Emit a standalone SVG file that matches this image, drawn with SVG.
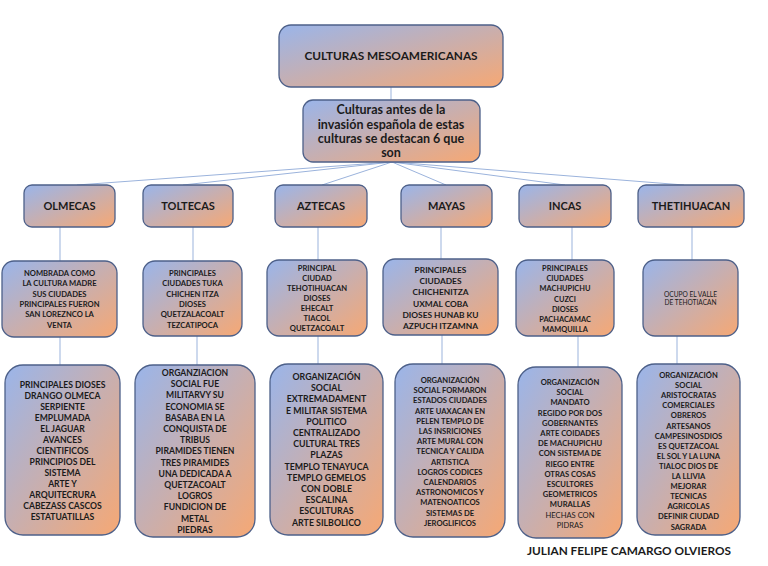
<svg xmlns="http://www.w3.org/2000/svg" width="768" height="566" viewBox="0 0 768 566">
<defs>
<linearGradient id="g" x1="0" y1="0" x2="1" y2="1">
<stop offset="0" stop-color="#9ab5ea"/>
<stop offset="1" stop-color="#f6a874"/>
</linearGradient>
<style>
.box{fill:url(#g);stroke:#4d6089;stroke-width:1.3}
.t{font-family:"Lato","Liberation Sans",sans-serif;font-weight:bold;fill:#1b1b1b;text-anchor:middle}
.r{font-weight:normal}
.c{stroke:#9bb3dc;stroke-width:1;fill:none}
</style>
</defs>
<rect width="768" height="566" fill="#ffffff"/>
<g id="connectors">
<line class="c" x1="391" y1="87" x2="391" y2="100"/>
<line class="c" x1="392" y1="162" x2="77" y2="185"/>
<line class="c" x1="392" y1="162" x2="183" y2="185"/>
<line class="c" x1="392" y1="162" x2="322" y2="185"/>
<line class="c" x1="392" y1="162" x2="446" y2="185"/>
<line class="c" x1="392" y1="162" x2="565" y2="185"/>
<line class="c" x1="392" y1="162" x2="684" y2="185"/>
<line class="c" x1="60" y1="227" x2="60" y2="261"/>
<line class="c" x1="193" y1="227" x2="193" y2="261"/>
<line class="c" x1="318" y1="227" x2="318" y2="260"/>
<line class="c" x1="441" y1="227" x2="441" y2="259"/>
<line class="c" x1="572" y1="227" x2="572" y2="260"/>
<line class="c" x1="692" y1="227" x2="692" y2="260"/>
<line class="c" x1="60" y1="337" x2="60" y2="365"/>
<line class="c" x1="197" y1="336" x2="197" y2="365"/>
<line class="c" x1="318" y1="336" x2="318" y2="364"/>
<line class="c" x1="442" y1="335" x2="442" y2="364"/>
<line class="c" x1="578" y1="336" x2="578" y2="367"/>
<line class="c" x1="677" y1="336" x2="677" y2="364"/>
</g>
<g id="n-title">
<rect class="box" x="279" y="25" width="224" height="62" rx="12"/>
<text class="t" x="391" y="60" font-size="11.8">CULTURAS MESOAMERICANAS</text>
</g>
<g id="n-intro">
<rect class="box" x="303" y="100" width="177" height="62" rx="10"/>
<text class="t" font-size="12.5"><tspan x="391" y="114">Culturas antes de la</tspan><tspan x="391" y="129">invasión española de estas</tspan><tspan x="391" y="143">culturas se destacan 6 que</tspan><tspan x="391" y="157">son</tspan></text>
</g>
<g id="h-olmecas"><rect class="box" x="24" y="185" width="91" height="42" rx="8"/><text class="t" x="69.5" y="210" font-size="11">OLMECAS</text></g>
<g id="h-toltecas"><rect class="box" x="143" y="185" width="90" height="42" rx="8"/><text class="t" x="188" y="210" font-size="11">TOLTECAS</text></g>
<g id="h-aztecas"><rect class="box" x="275" y="185" width="92" height="42" rx="8"/><text class="t" x="321" y="210" font-size="11">AZTECAS</text></g>
<g id="h-mayas"><rect class="box" x="401" y="185" width="91" height="42" rx="8"/><text class="t" x="446.5" y="210" font-size="11">MAYAS</text></g>
<g id="h-incas"><rect class="box" x="519" y="185" width="92" height="42" rx="8"/><text class="t" x="565" y="210" font-size="11">INCAS</text></g>
<g id="h-theti"><rect class="box" x="638" y="185" width="106" height="42" rx="8"/><text class="t" x="691" y="210" font-size="11">THETIHUACAN</text></g>

<g id="a-olmecas"><rect class="box" x="2" y="261" width="115" height="76" rx="12"/>
<text class="t" font-size="7.6"><tspan x="59.5" y="276">NOMBRADA COMO</tspan><tspan x="59.5" y="286.3">LA CULTURA MADRE</tspan><tspan x="59.5" y="296.6">SUS CIUDADES</tspan><tspan x="59.5" y="306.9">PRINCIPALES FUERON</tspan><tspan x="59.5" y="317.2">SAN LOREZNCO LA</tspan><tspan x="59.5" y="327.5">VENTA</tspan></text></g>
<g id="a-toltecas"><rect class="box" x="143" y="261" width="99" height="75" rx="12"/>
<text class="t" font-size="7.6"><tspan x="192.5" y="276">PRINCIPALES</tspan><tspan x="192.5" y="286.3">CIUDADES TUKA</tspan><tspan x="192.5" y="296.6">CHICHEN ITZA</tspan><tspan x="192.5" y="306.9">DIOSES</tspan><tspan x="192.5" y="317.2">QUETZALACOALT</tspan><tspan x="192.5" y="327.5">TEZCATIPOCA</tspan></text></g>
<g id="a-aztecas"><rect class="box" x="267" y="260" width="100" height="76" rx="12"/>
<text class="t" font-size="7.6"><tspan x="317" y="271">PRINCIPAL</tspan><tspan x="317" y="281">CIUDAD</tspan><tspan x="317" y="291">TEHOTIHUACAN</tspan><tspan x="317" y="301">DIOSES</tspan><tspan x="317" y="311">EHECALT</tspan><tspan x="317" y="321">TIACOL</tspan><tspan x="317" y="331">QUETZACOALT</tspan></text></g>
<g id="a-mayas"><rect class="box" x="383" y="259" width="115" height="76" rx="12"/>
<text class="t" font-size="8.4"><tspan x="440.5" y="273">PRINCIPALES</tspan><tspan x="440.5" y="284.2">CIUDADES</tspan><tspan x="440.5" y="295.4">CHICHENITZA</tspan><tspan x="440.5" y="306.6">UXMAL COBA</tspan><tspan x="440.5" y="317.8">DIOSES  HUNAB KU</tspan><tspan x="440.5" y="329">AZPUCH ITZAMNA</tspan></text></g>
<g id="a-incas"><rect class="box" x="516" y="260" width="98" height="76" rx="12"/>
<text class="t" font-size="7.4"><tspan x="565" y="271">PRINCIPALES</tspan><tspan x="565" y="281.2">CIUDADES</tspan><tspan x="565" y="291.4">MACHUPICHU</tspan><tspan x="565" y="301.6">CUZCI</tspan><tspan x="565" y="311.8">DIOSES</tspan><tspan x="565" y="322">PACHACAMAC</tspan><tspan x="565" y="332.2">MAMQUILLA</tspan></text></g>
<g id="a-theti"><rect class="box" x="643" y="260" width="95" height="76" rx="12"/>
<text class="t r" font-size="6.6"><tspan x="690.5" y="296.5">OCUPO EL VALLE</tspan><tspan x="690.5" y="305">DE TEHOTIACAN</tspan></text></g>

<g id="b-olmecas"><rect class="box" x="5" y="365" width="115" height="170" rx="18"/>
<text class="t" font-size="8.6"><tspan x="62.5" y="388">PRINCIPALES DIOSES</tspan><tspan x="62.5" y="399">DRANGO OLMECA</tspan><tspan x="62.5" y="410">SERPIENTE</tspan><tspan x="62.5" y="421">EMPLUMADA</tspan><tspan x="62.5" y="432">EL JAGUAR</tspan><tspan x="62.5" y="443">AVANCES</tspan><tspan x="62.5" y="454">CIENTIFICOS</tspan><tspan x="62.5" y="465">PRINCIPIOS DEL</tspan><tspan x="62.5" y="476">SISTEMA</tspan><tspan x="62.5" y="487">ARTE Y</tspan><tspan x="62.5" y="498">ARQUITECRURA</tspan><tspan x="62.5" y="509">CABEZASS CASCOS</tspan><tspan x="62.5" y="520">ESTATUATILLAS</tspan></text></g>
<g id="b-toltecas"><rect class="box" x="135" y="365" width="120" height="172" rx="18"/>
<text class="t" font-size="8.6"><tspan x="195" y="376">ORGANZIACION</tspan><tspan x="195" y="387.2">SOCIAL  FUE</tspan><tspan x="195" y="398.4">MILITARVY SU</tspan><tspan x="195" y="409.6">ECONOMIA SE</tspan><tspan x="195" y="420.8">BASABA EN LA</tspan><tspan x="195" y="432">CONQUISTA DE</tspan><tspan x="195" y="443.2">TRIBUS</tspan><tspan x="195" y="454.4">PIRAMIDES TIENEN</tspan><tspan x="195" y="465.6">TRES PIRAMIDES</tspan><tspan x="195" y="476.8">UNA DEDICADA A</tspan><tspan x="195" y="488">QUETZACOALT</tspan><tspan x="195" y="499.2">LOGROS</tspan><tspan x="195" y="510.4">FUNDICION DE</tspan><tspan x="195" y="521.6">METAL</tspan><tspan x="195" y="532.8">PIEDRAS</tspan></text></g>
<g id="b-aztecas"><rect class="box" x="270" y="364" width="113" height="171" rx="18"/>
<text class="t" font-size="8.8"><tspan x="326.5" y="380">ORGANIZACIÓN</tspan><tspan x="326.5" y="391.2">SOCIAL</tspan><tspan x="326.5" y="402.4">EXTREMADAMENT</tspan><tspan x="326.5" y="413.6">E MILITAR SISTEMA</tspan><tspan x="326.5" y="424.8">POLITICO</tspan><tspan x="326.5" y="436">CENTRALIZADO</tspan><tspan x="326.5" y="447.2">CULTURAL TRES</tspan><tspan x="326.5" y="458.4">PLAZAS</tspan><tspan x="326.5" y="469.6">TEMPLO TENAYUCA</tspan><tspan x="326.5" y="480.8">TEMPLO GEMELOS</tspan><tspan x="326.5" y="492">CON DOBLE</tspan><tspan x="326.5" y="503.2">ESCALINA</tspan><tspan x="326.5" y="514.4">ESCULTURAS</tspan><tspan x="326.5" y="525.6">ARTE SILBOLICO</tspan></text></g>
<g id="b-mayas"><rect class="box" x="395" y="364" width="110" height="173" rx="18"/>
<text class="t" font-size="7.6"><tspan x="450" y="383">ORGANIZACIÓN</tspan><tspan x="450" y="393.2">SOCIAL  FORMARON</tspan><tspan x="450" y="403.4">ESTADOS CIUDADES</tspan><tspan x="450" y="413.6">ARTE UAXACAN  EN</tspan><tspan x="450" y="423.8">PELEN TEMPLO DE</tspan><tspan x="450" y="434">LAS INSRICIONES</tspan><tspan x="450" y="444.2">ARTE MURAL  CON</tspan><tspan x="450" y="454.4">TECNICA Y CALIDA</tspan><tspan x="450" y="464.6">ARTISTICA</tspan><tspan x="450" y="474.8">LOGROS CODICES</tspan><tspan x="450" y="485">CALENDARIOS</tspan><tspan x="450" y="495.2">ASTRONOMICOS Y</tspan><tspan x="450" y="505.4">MATENOATICOS</tspan><tspan x="450" y="515.6">SISTEMAS DE</tspan><tspan x="450" y="525.8">JEROGLIFICOS</tspan></text></g>
<g id="b-incas"><rect class="box" x="518" y="367" width="104" height="171" rx="18"/>
<text class="t" font-size="7.6"><tspan x="570" y="385">ORGANIZACIÓN</tspan><tspan x="570" y="395.2">SOCIAL</tspan><tspan x="570" y="405.4">MANDATO</tspan><tspan x="570" y="415.6">REGIDO POR DOS</tspan><tspan x="570" y="425.8">GOBERNANTES</tspan><tspan x="570" y="436">ARTE COIDADES</tspan><tspan x="570" y="446.2">DE MACHUPICHU</tspan><tspan x="570" y="456.4">CON SISTEMA DE</tspan><tspan x="570" y="466.6">RIEGO ENTRE</tspan><tspan x="570" y="476.8">OTRAS COSAS</tspan><tspan x="570" y="487">ESCULTORES</tspan><tspan x="570" y="497.2">GEOMETRICOS</tspan><tspan x="570" y="507.4">MURALLAS</tspan><tspan x="570" y="517.6" class="r">HECHAS CON</tspan><tspan x="570" y="527.8" class="r">PIDRAS</tspan></text></g>
<g id="b-theti"><rect class="box" x="637" y="364" width="103" height="171" rx="18"/>
<text class="t" font-size="7.6"><tspan x="688.5" y="378">ORGANIZACIÓN</tspan><tspan x="688.5" y="388.1">SOCIAL</tspan><tspan x="688.5" y="398.2">ARISTOCRATAS</tspan><tspan x="688.5" y="408.3">COMERCIALES</tspan><tspan x="688.5" y="418.4">OBREROS</tspan><tspan x="688.5" y="428.5">ARTESANOS</tspan><tspan x="688.5" y="438.6">CAMPESINOSDIOS</tspan><tspan x="688.5" y="448.7">ES QUETZACOAL</tspan><tspan x="688.5" y="458.8">EL SOL Y LA LUNA</tspan><tspan x="688.5" y="468.9">TIALOC DIOS DE</tspan><tspan x="688.5" y="479">LA LLIVIA</tspan><tspan x="688.5" y="489.1">MEJORAR</tspan><tspan x="688.5" y="499.2">TECNICAS</tspan><tspan x="688.5" y="509.3">AGRICOLAS</tspan><tspan x="688.5" y="519.4">DEFINIR CIUDAD</tspan><tspan x="688.5" y="529.5">SAGRADA</tspan></text></g>

<text class="t" x="629" y="555" font-size="11.8">JULIAN FELIPE CAMARGO OLVIEROS</text>
</svg>
